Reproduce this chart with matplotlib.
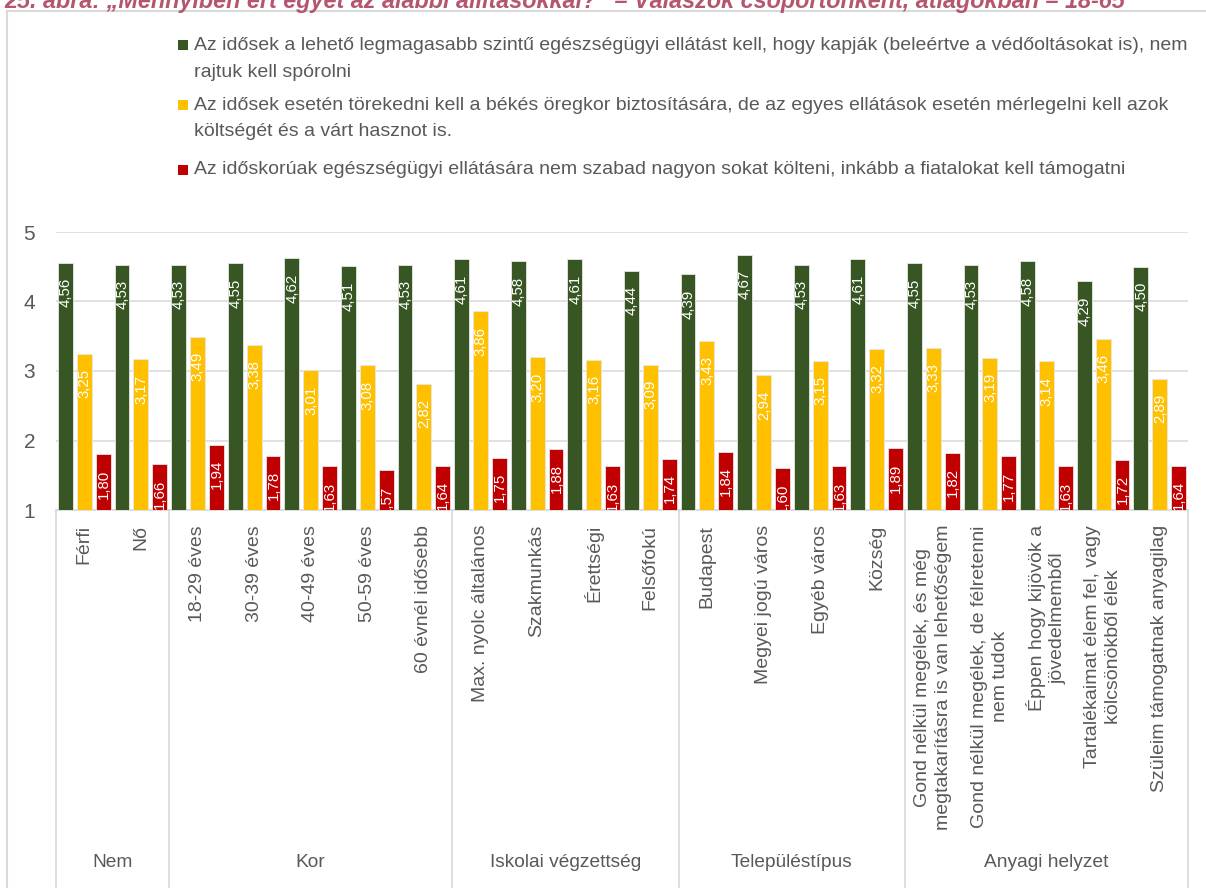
import matplotlib
matplotlib.use('Agg')
import matplotlib.pyplot as plt
import matplotlib.transforms as mtransforms
from matplotlib.lines import Line2D
from matplotlib.patches import Rectangle
import numpy as np

# ---------------- data ----------------
groups = ['Nem', 'Kor', 'Iskolai végzettség', 'Településtípus', 'Anyagi helyzet']
group_sizes = [2, 5, 4, 4, 5]
categories = [
    'Férfi', 'Nő',
    '18-29 éves', '30-39 éves', '40-49 éves', '50-59 éves', '60 évnél idősebb',
    'Max. nyolc általános', 'Szakmunkás', 'Érettségi', 'Felsőfokú',
    'Budapest', 'Megyei jogú város', 'Egyéb város', 'Község',
    'Gond nélkül megélek, és még\nmegtakarításra is van lehetőségem',
    'Gond nélkül megélek, de félretenni\nnem tudok',
    'Éppen hogy kijövök a\njövedelmemből',
    'Tartalékaimat élem fel, vagy\nkölcsönökből élek',
    'Szüleim támogatnak anyagilag',
]
series_legend = [
    ['Az idősek a lehető legmagasabb szintű egészségügyi ellátást kell, hogy kapják (beleértve a védőoltásokat is), nem',
     'rajtuk kell spórolni'],
    ['Az idősek esetén törekedni kell a békés öregkor biztosítására, de az egyes ellátások esetén mérlegelni kell azok',
     'költségét és a várt hasznot is.'],
    ['Az időskorúak egészségügyi ellátására nem szabad nagyon sokat költeni, inkább a fiatalokat kell támogatni'],
]
s_green = [4.56, 4.53, 4.53, 4.55, 4.62, 4.51, 4.53, 4.61, 4.58, 4.61, 4.44,
           4.39, 4.67, 4.53, 4.61, 4.55, 4.53, 4.58, 4.29, 4.50]
s_yellow = [3.25, 3.17, 3.49, 3.38, 3.01, 3.08, 2.82, 3.86, 3.20, 3.16, 3.09,
            3.43, 2.94, 3.15, 3.32, 3.33, 3.19, 3.14, 3.46, 2.89]
s_red = [1.80, 1.66, 1.94, 1.78, 1.63, 1.57, 1.64, 1.75, 1.88, 1.63, 1.74,
         1.84, 1.60, 1.63, 1.89, 1.82, 1.77, 1.63, 1.72, 1.64]
series = [s_green, s_yellow, s_red]
colors = ['#375623', '#FFC000', '#C00000']
title = '25. ábra: „Mennyiben ért egyet az alábbi állításokkal?” – Válaszok csoportonként, átlagokban – 18-65'

# ---------------- figure ----------------
W, H = 1206, 888
fig = plt.figure(figsize=(W / 100, H / 100), dpi=100)
TXT = '#595959'
GRID = '#d9d9d9'
FONT = ['Liberation Sans', 'DejaVu Sans']

def px(x, y):
    return x / W, 1 - y / H

ax_l, ax_r, ax_t, ax_b = 56, 1188, 232, 510
ax = fig.add_axes([ax_l / W, 1 - ax_b / H, (ax_r - ax_l) / W, (ax_b - ax_t) / H])

n = len(categories)
x = np.arange(n)
offsets = [-0.335, 0.0, 0.335]
bw = 0.262
for vals, col, off in zip(series, colors, offsets):
    ax.bar(x + off, vals, width=bw, color=col, edgecolor='#e6e6e6', linewidth=0.6, zorder=3)
    for xi, v in zip(x, vals):
        t = ax.annotate(f'{v:.2f}'.replace('.', ','), xy=(xi + off, v), xytext=(0.3, -11),
                        textcoords='offset points', rotation=90, ha='center', va='top',
                        color='white', fontsize=10.8, family=FONT, zorder=4,
                        annotation_clip=False, clip_on=True)
        t.set_clip_path(ax.patch)

ax.set_xlim(-0.5, n - 0.5)
ax.set_ylim(1, 5)
ax.set_yticks([1, 2, 3, 4, 5])
ax.yaxis.grid(True, color=GRID, linewidth=1.1, zorder=0)
ax.set_axisbelow(True)
ax.tick_params(axis='y', length=0, pad=15, labelsize=15, labelcolor=TXT)
for lab in ax.get_yticklabels():
    lab.set_family(FONT)
ax.set_xticks([])
for s in ['top', 'right', 'left']:
    ax.spines[s].set_visible(False)
ax.spines['bottom'].set_color(GRID)
ax.spines['bottom'].set_linewidth(1.2)

# ---------------- category axis (two levels) ----------------
btrans = mtransforms.blended_transform_factory(ax.transData, fig.transFigure)
for xi, lab in zip(x, categories):
    ax.text(xi, 1 - 525 / H, lab, transform=btrans, rotation=90, ha='center', va='top',
            multialignment='center', fontsize=14, color=TXT, family=FONT,
            linespacing=1.3, clip_on=False)

bounds = np.concatenate([[0], np.cumsum(group_sizes)]) - 0.5
for b in bounds:
    ax.add_line(Line2D([b, b], [1 - ax_b / H, 0], transform=btrans, color=GRID,
                       linewidth=1.2, clip_on=False))
for g, lo, hi in zip(groups, bounds[:-1], bounds[1:]):
    ax.text((lo + hi) / 2, 1 - 862 / H, g, transform=btrans, ha='center', va='center',
            fontsize=13.8, color=TXT, family=FONT, clip_on=False)

# ---------------- legend ----------------
line_y = [[45, 72], [105, 131], [170]]
for lines, ys, col in zip(series_legend, line_y, colors):
    fig.patches.append(Rectangle(px(178, ys[0] + 5), 10 / W, 10 / H, transform=fig.transFigure,
                                 facecolor=col, edgecolor='none'))
    for ln, yy in zip(lines, ys):
        fig.text(*px(194, yy), ln, ha='left', va='center', fontsize=14, color=TXT, family=FONT)

# ---------------- frame & title ----------------
fig.add_artist(Line2D([7 / W, 1], [1 - 11 / H, 1 - 11 / H], transform=fig.transFigure,
                      color=GRID, linewidth=1.5))
fig.add_artist(Line2D([7 / W, 7 / W], [1 - 11 / H, 0], transform=fig.transFigure,
                      color=GRID, linewidth=1.5))
fig.text(*px(4, 8), title, ha='left', va='baseline', fontsize=16.8, fontweight='bold',
         fontstyle='italic', color='#B5566F', family=FONT)

fig.savefig('out.png', dpi=100)
